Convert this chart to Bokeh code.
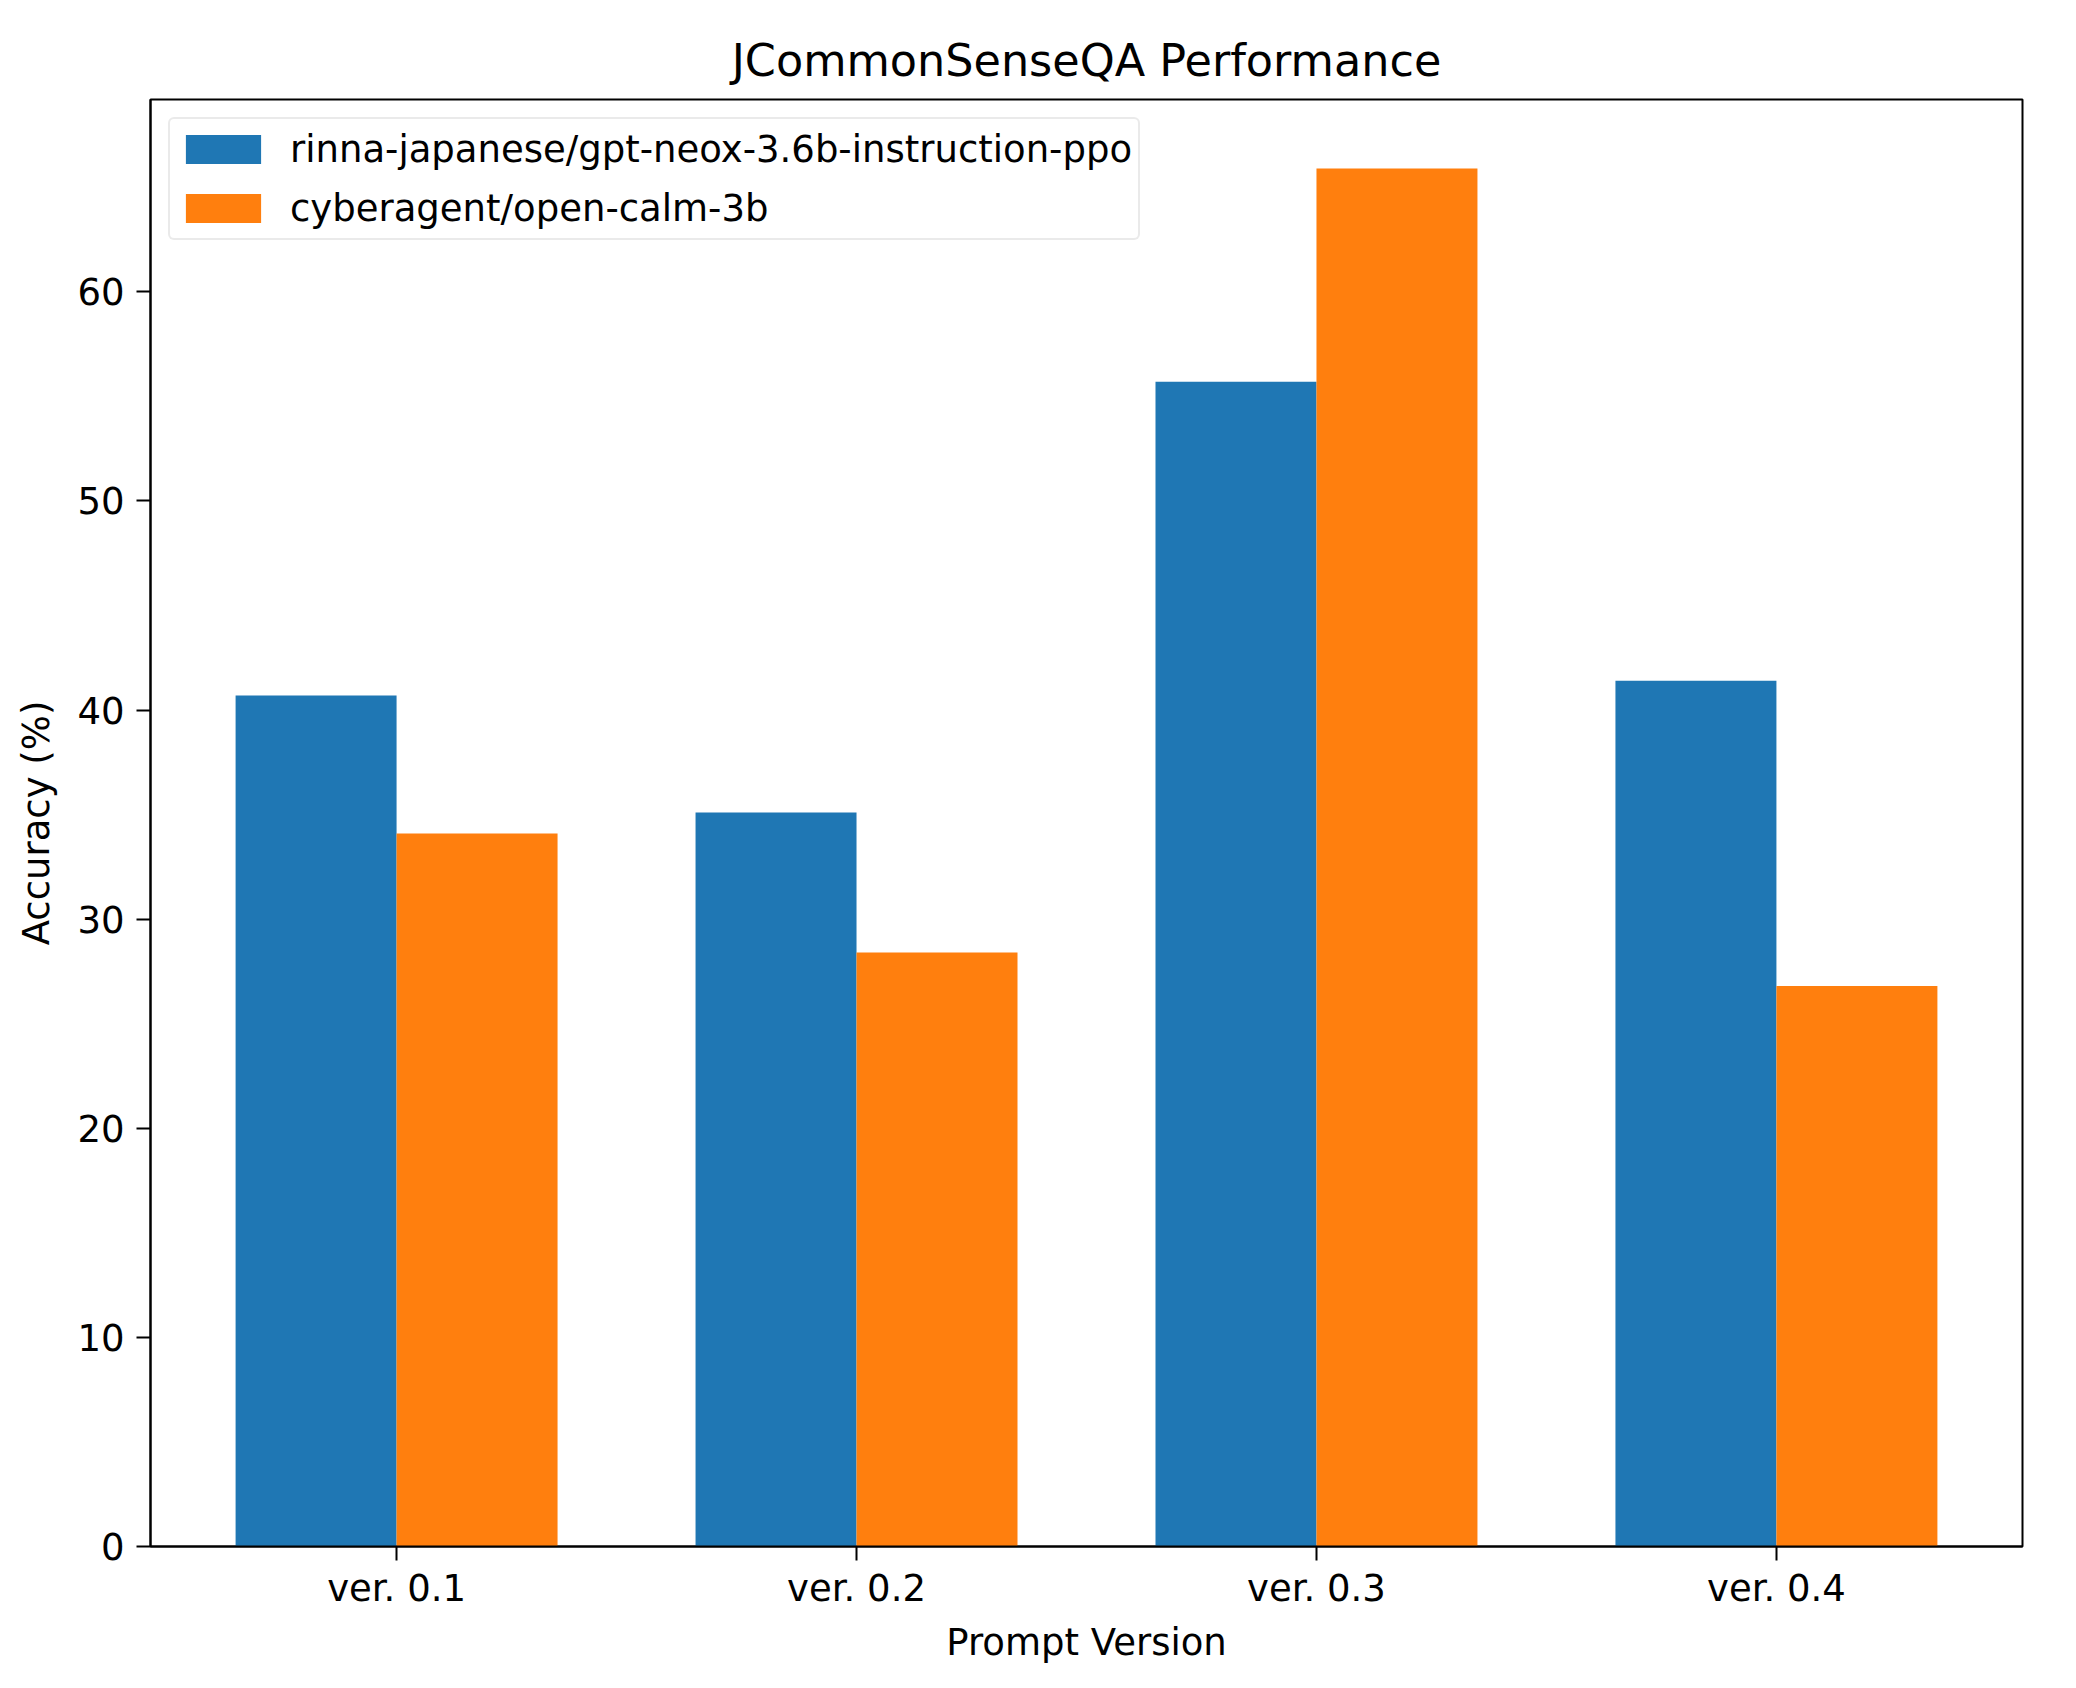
from bokeh.plotting import figure
from bokeh.models import Range1d, FixedTicker, Legend, LegendItem, ColumnDataSource
from bokeh.embed import file_html
from bokeh.resources import INLINE
import numpy as np

categories = ["ver. 0.1", "ver. 0.2", "ver. 0.3", "ver. 0.4"]
series_names = ["rinna-japanese/gpt-neox-3.6b-instruction-ppo", "cyberagent/open-calm-3b"]
rinna_values = [40.7, 35.1, 55.7, 41.4]
calm_values = [34.1, 28.4, 65.9, 26.8]
y_ticks = [0, 10, 20, 30, 40, 50, 60]

colors = ["#1f77b4", "#ff7f0e"]
bar_width = 0.35
FONT = "DejaVu Sans"

idx = np.arange(len(categories))
ymax = max(max(rinna_values), max(calm_values)) * 1.05
xpad = (len(categories) - 1 + 2 * bar_width) * 0.05

p = figure(width=2060, height=1672, output_backend="svg", toolbar_location=None,
           x_range=Range1d(-bar_width - xpad, len(categories) - 1 + bar_width + xpad),
           y_range=Range1d(0, ymax),
           min_border_left=150, min_border_right=38, min_border_top=99, min_border_bottom=126)

src1 = ColumnDataSource(dict(x=idx - bar_width / 2, top=rinna_values))
src2 = ColumnDataSource(dict(x=idx + bar_width / 2, top=calm_values))
r1 = p.vbar(x="x", top="top", width=bar_width, bottom=0, source=src1, fill_color=colors[0], line_color=None)
r2 = p.vbar(x="x", top="top", width=bar_width, bottom=0, source=src2, fill_color=colors[1], line_color=None)

p.title.text = "JCommonSenseQA Performance"
p.title.align = "center"
p.title.text_font = FONT
p.title.text_font_size = "44.5px"
p.title.text_font_style = "normal"
p.title.text_color = "black"
p.title.standoff = 28

p.xgrid.visible = False
p.ygrid.visible = False
p.outline_line_color = "black"
p.outline_line_width = 2

p.xaxis.ticker = FixedTicker(ticks=list(idx))
p.xaxis.major_label_overrides = {int(i): c for i, c in zip(idx, categories)}
p.yaxis.ticker = FixedTicker(ticks=y_ticks)
p.xaxis.axis_label = "Prompt Version"
p.yaxis.axis_label = "Accuracy (%)"

for ax in (p.xaxis, p.yaxis):
    ax.axis_line_color = "black"
    ax.axis_line_width = 2
    ax.major_tick_line_color = "black"
    ax.major_tick_line_width = 2
    ax.major_tick_out = 14
    ax.major_tick_in = 0
    ax.minor_tick_line_color = None
    ax.major_label_text_font = FONT
    ax.major_label_text_font_size = "37px"
    ax.major_label_text_color = "black"
    ax.axis_label_text_font = FONT
    ax.axis_label_text_font_size = "37px"
    ax.axis_label_text_font_style = "normal"
    ax.axis_label_text_color = "black"

p.xaxis.major_label_standoff = 6
p.xaxis.axis_label_standoff = 8
p.yaxis.major_label_standoff = 12
p.yaxis.axis_label_standoff = 16

legend = Legend(items=[LegendItem(label=series_names[0], renderers=[r1]),
                       LegendItem(label=series_names[1], renderers=[r2])],
                location="top_left")
legend.margin = 18
legend.padding = 6
legend.spacing = 11
legend.glyph_width = 94
legend.glyph_height = 36
legend.label_standoff = 20
legend.label_text_font = FONT
legend.label_text_font_size = "37px"
legend.label_text_color = "black"
legend.label_height = 48
legend.border_line_color = "#d5d5d5"
legend.border_line_width = 2
legend.border_radius = 6
legend.background_fill_alpha = 0.8
p.add_layout(legend)

open("out.html", "w").write(file_html(p, INLINE))
